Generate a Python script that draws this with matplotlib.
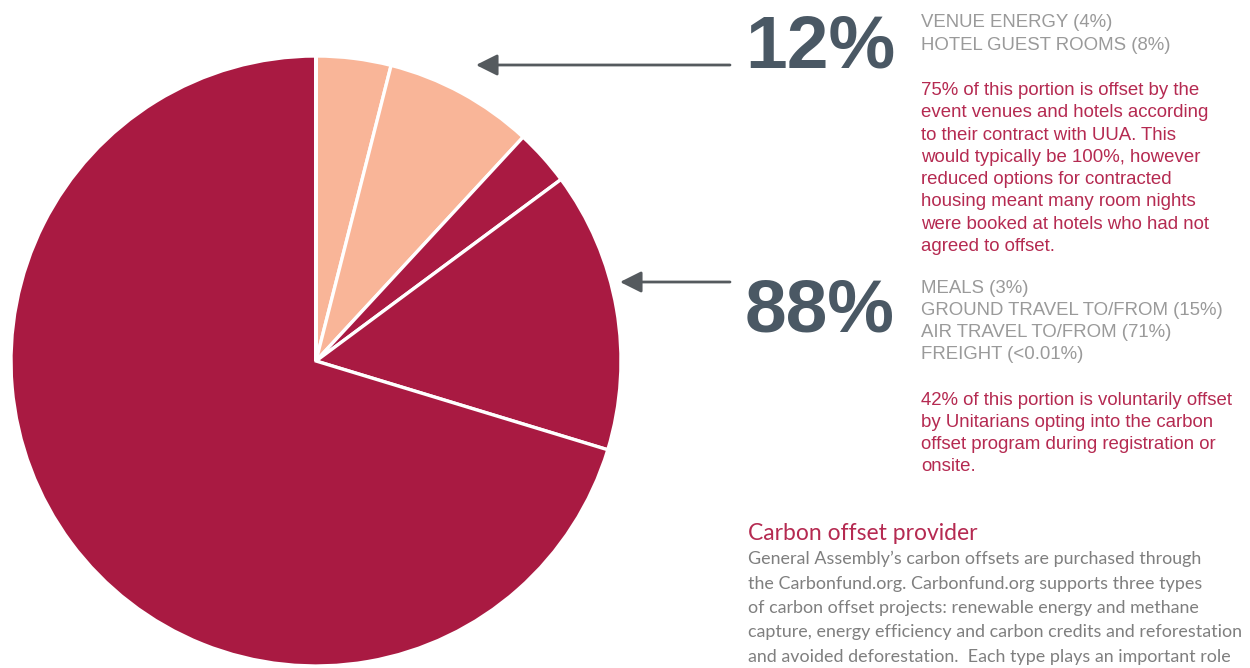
import matplotlib
matplotlib.use("Agg")
import matplotlib.pyplot as plt

# ---- data ----
categories = ["Venue energy", "Hotel guest rooms", "Meals", "Ground travel to/from",
              "Air travel to/from", "Freight"]
shares = [4, 8, 3, 15, 71, 0.01]
groups = ["offset", "offset", "travel", "travel", "travel", "travel"]
group_totals = ["12%", "88%"]
top_labels = ["VENUE ENERGY (4%)", "HOTEL GUEST ROOMS (8%)"]
bottom_labels = ["MEALS (3%)", "GROUND TRAVEL TO/FROM (15%)", "AIR TRAVEL TO/FROM (71%)",
                 "FREIGHT (<0.01%)"]
top_note = ["75% of this portion is offset by the",
            "event venues and hotels according",
            "to their contract with UUA. This",
            "would typically be 100%, however",
            "reduced options for contracted",
            "housing meant many room nights",
            "were booked at hotels who had not",
            "agreed to offset."]
bottom_note = ["42% of this portion is voluntarily offset",
               "by Unitarians opting into the carbon",
               "offset program during registration or",
               "onsite."]
provider_title = "Carbon offset provider"
provider_body = ["General Assembly\u2019s carbon offsets are purchased through",
                 "the Carbonfund.org. Carbonfund.org supports three types",
                 "of carbon offset projects: renewable energy and methane",
                 "capture, energy efficiency and carbon credits and reforestation",
                 "and avoided deforestation.  Each type plays an important role"]

SALMON = "#F9B598"
CRIMSON = "#A91A42"
BIG = "#4A5864"
GRAY = "#9A9A9A"
RED = "#B52A51"
BODY = "#7F7F7F"
ARROW = "#555A5E"

W, H = 1250, 668
fig = plt.figure(figsize=(W / 100, H / 100), dpi=100)
ax = fig.add_axes([0, 0, 1, 1])
ax.set_xlim(0, W)
ax.set_ylim(0, H)
ax.set_aspect("equal")
ax.axis("off")

def Y(py):
    return H - py

colors = [SALMON if g == "offset" else CRIMSON for g in groups]
ax.pie(shares, colors=colors, startangle=90, counterclock=False,
       center=(316, Y(361)), radius=305, frame=True,
       wedgeprops=dict(edgecolor="white", linewidth=2.4))
ax.set_xlim(0, W)
ax.set_ylim(0, H)
ax.axis("off")

# arrows
for (x0, x1, py) in [(730, 476, 65), (730, 620, 282)]:
    ax.annotate("", xy=(x1, Y(py)), xytext=(x0, Y(py)),
                arrowprops=dict(arrowstyle="-|>,head_length=1.3,head_width=0.65",
                                color=ARROW, lw=2, shrinkA=0, shrinkB=0))

sans = ["Liberation Sans", "DejaVu Sans"]
ax.text(745, Y(68), group_totals[0], fontsize=54, fontweight="bold", color=BIG,
        family=sans, va="baseline", ha="left")
ax.text(745, Y(331), group_totals[1], fontsize=54, fontweight="bold", color=BIG,
        family=sans, va="baseline", ha="left")

def lines(txts, x, y0, dy, color, size, fam):
    for i, t in enumerate(txts):
        ax.text(x, Y(y0 + i * dy), t, fontsize=size, color=color, family=fam,
                va="baseline", ha="left")

lines(top_labels, 921, 27, 22.5, GRAY, 13.4, sans)
lines(top_note, 921, 95, 22.3, RED, 13.4, sans)
lines(bottom_labels, 921, 293, 22, GRAY, 13.4, sans)
lines(bottom_note, 921, 405, 22, RED, 13.4, sans)

lato = ["Lato", "DejaVu Sans"]
ax.text(748, Y(540), provider_title, fontsize=16.5, color=RED, family=lato,
        va="baseline", ha="left")
lines(provider_body, 748, 564, 24.5, BODY, 12.9, lato)

fig.savefig("out.png", dpi=100)
